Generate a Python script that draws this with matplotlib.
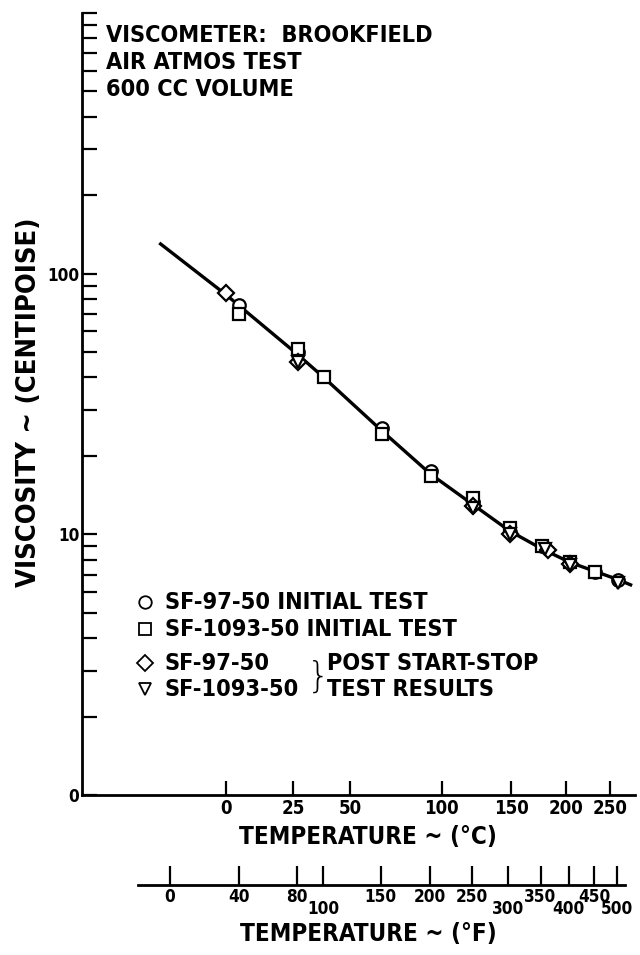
import numpy as np
import matplotlib.pyplot as plt
from matplotlib import font_manager

# condensed bold face if one is installed, otherwise plain DejaVu
cond = font_manager.FontProperties(family='DejaVu Sans', stretch='condensed',
                                   weight='bold')
if 'Condensed' in font_manager.findfont(cond, fallback_to_default=False):
    plt.rcParams['font.stretch'] = 'condensed'
    fs = 1.12
else:
    fs = 1.0
plt.rcParams['font.family'] = ['DejaVu Sans']
plt.rcParams['font.weight'] = 'bold'

# test temperatures in deg F, viscosity in centipoise
sf97_init_F = [40, 80, 150, 200, 250, 300, 350, 450, 500]
sf97_init_cp = [76, 50, 25.6, 17.5, 13.3, 10.2, 9.0, 7.2, 6.7]
sf1093_init_F = [40, 80, 100, 150, 200, 250, 300, 350, 400, 450]
sf1093_init_cp = [70, 51.5, 40, 24.3, 16.7, 13.8, 10.6, 9.0, 7.8, 7.2]
sf97_post_F = [32, 80, 250, 300, 360, 400]
sf97_post_cp = [84, 46, 12.8, 10.0, 8.7, 7.7]
sf1093_post_F = [80, 250, 300, 355, 400, 500]
sf1093_post_cp = [46, 12.6, 10.0, 8.8, 7.6, 6.5]

# faired curve through all runs
fit_F = [-5, 32, 80, 100, 150, 200, 250, 300, 350, 400, 450, 500, 530]
fit_cp = [130, 83, 49, 40, 25, 17, 13, 10.3, 8.8, 7.8, 7.2, 6.7, 6.4]

c_ticks = [0, 25, 50, 100, 150, 200, 250]
f_ticks = [0, 40, 80, 100, 150, 200, 250, 300, 350, 400, 450, 500]
f_low = [100, 300, 400, 500]   # labels set lower to avoid crowding
y_ticks = [1, 10, 100, 1000]
y_labels = ['0', '10', '100', '']


# reciprocal absolute temperature scale, data in deg F
def fwd(f):
    f = np.asarray(f, dtype=float)
    return -1e4 / ((f - 32) / 1.8 + 273.15)


def inv(u):
    u = np.asarray(u, dtype=float)
    return (-1e4 / u - 273.15) * 1.8 + 32


fig = plt.figure(figsize=(6.4, 9.55), dpi=100)
ax = fig.add_axes([82/640, 1 - 795/955, (635 - 82)/640, (795 - 13)/955])
ax.set_xscale('function', functions=(fwd, inv))
ax.set_yscale('log')
ax.set_xlim(-42.7, 541)
ax.set_ylim(1, 1000)

ax.plot(fit_F, fit_cp, color='black', lw=2.4, zorder=2)
mk = dict(ls='none', mfc='white', mec='black', mew=1.6, ms=9, zorder=3)
ax.plot(sf97_init_F, sf97_init_cp, marker='o', **mk)
ax.plot(sf1093_init_F, sf1093_init_cp, marker='s', **mk)
ax.plot(sf97_post_F, sf97_post_cp, marker='D', **dict(mk, ms=8))
ax.plot(sf1093_post_F, sf1093_post_cp, marker='v', **mk)

for s in ['top', 'right']:
    ax.spines[s].set_visible(False)
for s in ['left', 'bottom']:
    ax.spines[s].set_linewidth(2)

ax.set_yticks(y_ticks)
ax.set_yticklabels(y_labels)
ax.tick_params(axis='y', which='both', direction='in', length=11, width=1.6,
               labelsize=11 * fs, pad=2)
ax.set_xticks([c * 1.8 + 32 for c in c_ticks])
ax.set_xticklabels([str(c) for c in c_ticks])
ax.xaxis.set_minor_locator(plt.NullLocator())
ax.tick_params(axis='x', direction='in', length=10, width=1.6,
               labelsize=12 * fs, pad=3)

# second temperature scale in deg F
axf = fig.add_axes([138/640, 1 - 885/955, (625 - 138)/640, 0.001])
axf.set_xscale('function', functions=(fwd, inv))
axf.set_xlim(-16.5, 520)
axf.set_yticks([])
for s in ['top', 'right', 'left']:
    axf.spines[s].set_visible(False)
axf.spines['bottom'].set_linewidth(2)
axf.set_xticks(f_ticks)
axf.set_xticklabels([str(f) for f in f_ticks])
axf.xaxis.set_minor_locator(plt.NullLocator())
axf.tick_params(axis='x', direction='in', length=14, width=1.6,
                labelsize=11 * fs, pad=2)
for f, t in zip(f_ticks, axf.xaxis.get_major_ticks()):
    if f in f_low:
        t.set_pad(11)

fig.text(368/640, 1 - 837/955, 'TEMPERATURE ~ (°C)', fontsize=15.5 * fs,
         ha='center', va='center')
fig.text(368/640, 1 - 934/955, 'TEMPERATURE ~ (°F)', fontsize=15.5 * fs,
         ha='center', va='center')
fig.text(29/640, 1 - 402/955, 'VISCOSITY ~ (CENTIPOISE)', fontsize=17.5 * fs,
         rotation=90, ha='center', va='center')

fig.text(106/640, 1 - 24/955, 'VISCOMETER:  BROOKFIELD\nAIR ATMOS TEST\n600 CC VOLUME',
         fontsize=15 * fs, ha='left', va='top', linespacing=1.38 / fs)

# key
key = [('o', 'SF-97-50 INITIAL TEST', 602),
       ('s', 'SF-1093-50 INITIAL TEST', 629),
       ('D', 'SF-97-50', 663),
       ('v', 'SF-1093-50', 689)]
for m, label, yp in key:
    fy = 1 - yp/955
    ax.plot([145/640], [fy], marker=m, ls='none', mfc='white', mec='black',
            mew=1.3, ms=9 if m != 'D' else 8, transform=fig.transFigure,
            clip_on=False)
    fig.text(165/640, fy, label, fontsize=15 * fs, ha='left', va='center')
fig.text(318/640, 1 - 677/955, '}', fontsize=26, ha='center', va='center',
         fontweight='light', fontstretch='normal')
fig.text(327/640, 1 - 663/955, 'POST START-STOP', fontsize=15 * fs,
         ha='left', va='center')
fig.text(327/640, 1 - 689/955, 'TEST RESULTS', fontsize=15 * fs,
         ha='left', va='center')

fig.savefig('out.png', dpi=100)
